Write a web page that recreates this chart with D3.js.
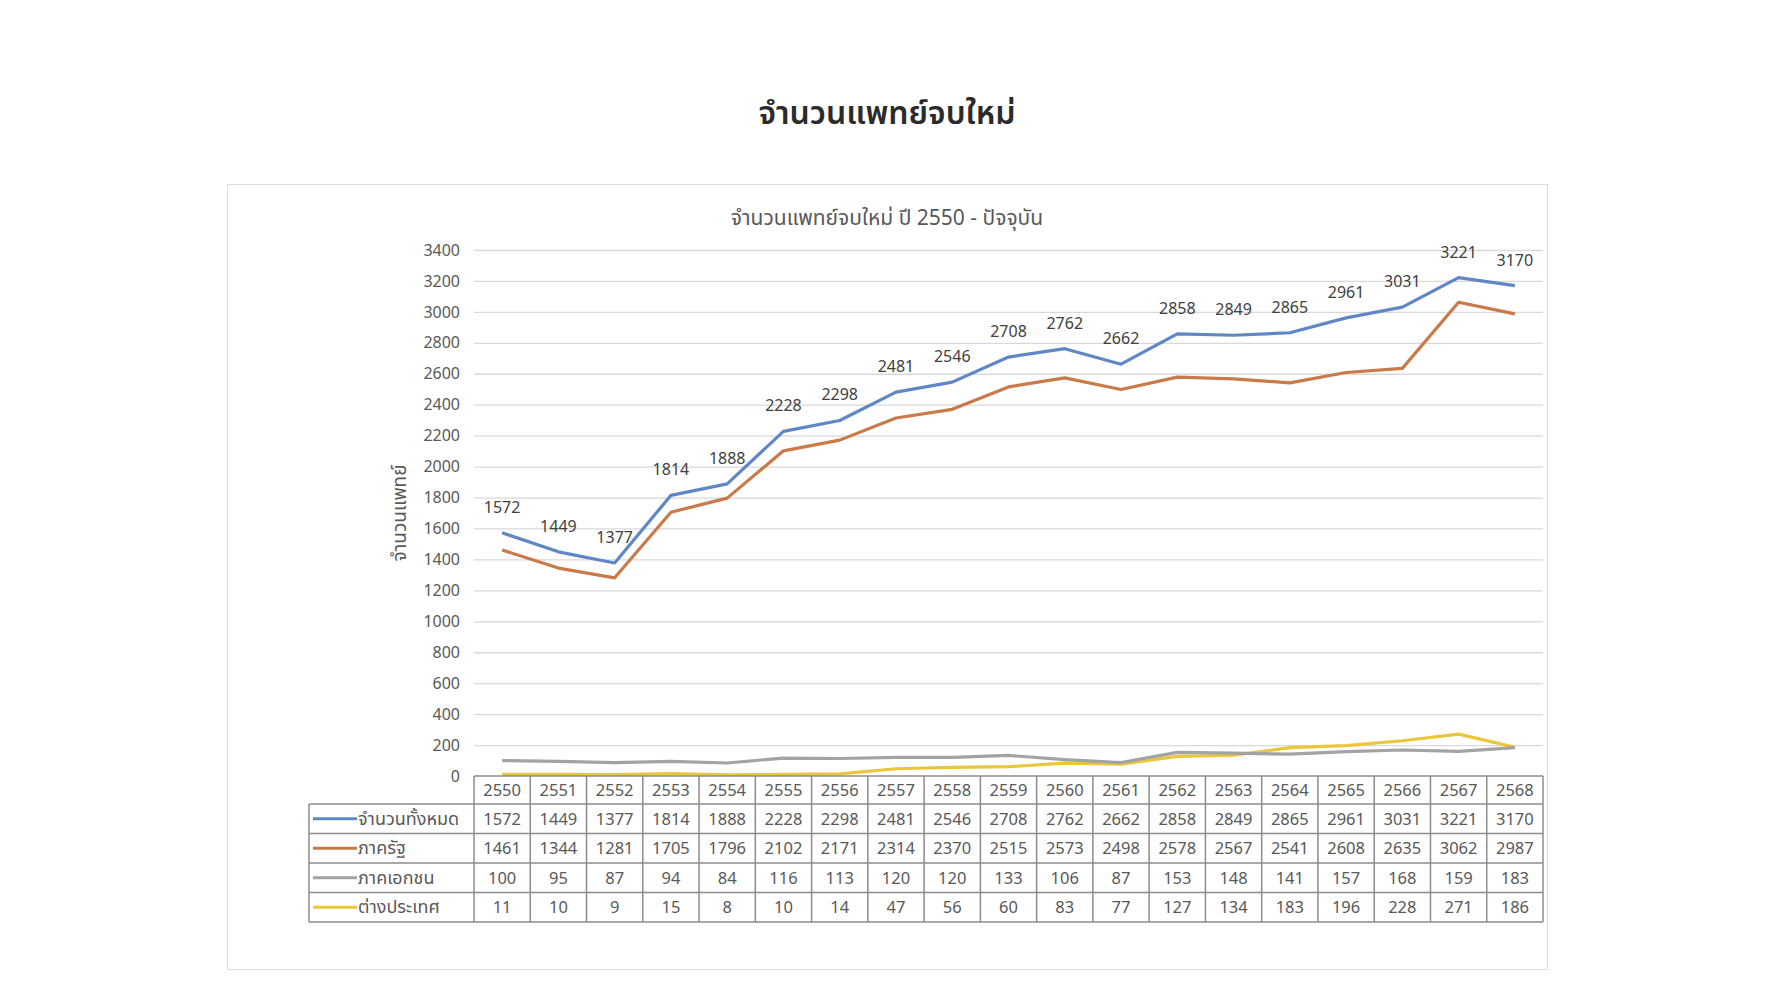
<!DOCTYPE html>
<html>
<head>
<meta charset="utf-8">
<script src="https://cdn.jsdelivr.net/npm/d3@7"></script>
<style>
  body { margin: 0; background: #fff; }
  svg { font-family: "Noto Sans Thai", "Noto Sans", "DejaVu Sans", sans-serif; }
</style>
</head>
<body>
<svg id="canvas" width="1771" height="992"></svg>
<script>
// data
let years = ["2550","2551","2552","2553","2554","2555","2556","2557","2558","2559",
  "2560","2561","2562","2563","2564","2565","2566","2567","2568"];
let total   = [1572,1449,1377,1814,1888,2228,2298,2481,2546,2708,2762,2662,2858,2849,2865,2961,3031,3221,3170];
let state   = [1461,1344,1281,1705,1796,2102,2171,2314,2370,2515,2573,2498,2578,2567,2541,2608,2635,3062,2987];
let privateSector = [100,95,87,94,84,116,113,120,120,133,106,87,153,148,141,157,168,159,183];
let abroad  = [11,10,9,15,8,10,14,47,56,60,83,77,127,134,183,196,228,271,186];
let seriesNames = ["จำนวนทั้งหมด", "ภาครัฐ", "ภาคเอกชน", "ต่างประเทศ"];
let seriesColors = ["#5f87c6", "#c87a48", "#a3a3a3", "#ecc63a"];
let yTicks = d3.range(0, 3401, 200);

let series = [total, state, privateSector, abroad];

let canvas = d3.select("#canvas");

let plotLeft = 474, plotRight = 1543, plotTop = 250, plotBottom = 776;
let legendLeft = 309;
let headerH = 28, rowH = 29.5;

let x = d3.scaleBand().domain(years).range([plotLeft, plotRight]);
let y = d3.scaleLinear().domain([0, 3400]).range([plotBottom, plotTop]);

// page title
canvas.append("text")
  .attr("x", 887).attr("y", 124)
  .attr("text-anchor", "middle")
  .attr("font-size", 32)
  .attr("font-weight", 600)
  .attr("fill", "#2b2b2b")
  .text("จำนวนแพทย์จบใหม่");

// chart frame
canvas.append("rect")
  .attr("x", 227.5).attr("y", 184.5)
  .attr("width", 1320).attr("height", 785)
  .attr("fill", "#fff")
  .attr("stroke", "#dcdcdc");

canvas.append("text")
  .attr("x", 887).attr("y", 225)
  .attr("text-anchor", "middle")
  .attr("font-size", 21)
  .attr("fill", "#595959")
  .text("จำนวนแพทย์จบใหม่ ปี 2550 - ปัจจุบัน");

// gridlines + y ticks
let yAxis = d3.axisLeft(y).tickValues(yTicks).tickFormat(d3.format("d"))
  .tickSize(-(plotRight - plotLeft)).tickPadding(14);
let gy = canvas.append("g")
  .attr("transform", `translate(${plotLeft},0)`)
  .call(yAxis);
gy.select(".domain").remove();
gy.selectAll(".tick line")
  .attr("stroke", (d) => d === 0 ? "none" : "#d9d9d9")
  .attr("stroke-width", 1.3);
gy.selectAll(".tick text")
  .attr("font-size", 16)
  .attr("fill", "#595959")
  .attr("font-family", "Noto Sans, sans-serif");

canvas.append("text")
  .attr("transform", "translate(406,513) rotate(-90)")
  .attr("text-anchor", "middle")
  .attr("font-size", 19)
  .attr("fill", "#595959")
  .text("จำนวนแพทย์");

// lines
let line = d3.line()
  .x((d, i) => x(years[i]) + x.bandwidth() / 2)
  .y((d) => y(d));

[3, 2, 1, 0].forEach((k) => {
  canvas.append("path")
    .datum(series[k])
    .attr("d", line)
    .attr("fill", "none")
    .attr("stroke", seriesColors[k])
    .attr("stroke-width", 3.2)
    .attr("stroke-linejoin", "round");
});

// data labels on total
canvas.selectAll(".lbl")
  .data(total)
  .enter()
  .append("text")
  .attr("class", "lbl")
  .attr("x", (d, i) => x(years[i]) + x.bandwidth() / 2)
  .attr("y", (d) => y(d) - 20)
  .attr("text-anchor", "middle")
  .attr("font-size", 16)
  .attr("fill", "#404040")
  .attr("font-family", "Noto Sans, sans-serif")
  .text((d) => d);

// data table
let table = canvas.append("g")
  .attr("font-size", 16.5)
  .attr("fill", "#595959");

let tableBottom = plotBottom + headerH + rowH * 4;
let gridColor = "#8c8c8c";

// header row
table.selectAll(".hdr")
  .data(years)
  .enter()
  .append("text")
  .attr("x", (d) => x(d) + x.bandwidth() / 2)
  .attr("y", plotBottom + headerH / 2 + 6)
  .attr("text-anchor", "middle")
  .attr("font-family", "Noto Sans, sans-serif")
  .text((d) => d);

// horizontal borders
let hLines = [plotBottom, plotBottom + headerH, plotBottom + headerH + rowH,
  plotBottom + headerH + rowH * 2, plotBottom + headerH + rowH * 3, tableBottom];
table.selectAll(".hl")
  .data(hLines)
  .enter()
  .append("line")
  .attr("x1", (d, i) => i === 0 ? plotLeft : legendLeft)
  .attr("x2", plotRight)
  .attr("y1", (d) => d).attr("y2", (d) => d)
  .attr("stroke", gridColor)
  .attr("stroke-width", 1.5);

// vertical borders
let vLines = years.map((d) => x(d)).concat([plotRight]);
table.selectAll(".vl")
  .data(vLines)
  .enter()
  .append("line")
  .attr("x1", (d) => d).attr("x2", (d) => d)
  .attr("y1", plotBottom).attr("y2", tableBottom)
  .attr("stroke", gridColor)
  .attr("stroke-width", 1.5);
table.append("line")
  .attr("x1", legendLeft).attr("x2", legendLeft)
  .attr("y1", plotBottom + headerH).attr("y2", tableBottom)
  .attr("stroke", gridColor)
  .attr("stroke-width", 1.5);

series.forEach((vals, k) => {
  let rowY = plotBottom + headerH + rowH * k;
  let mid = rowY + rowH / 2;
  table.append("line")
    .attr("x1", legendLeft + 4).attr("x2", legendLeft + 48)
    .attr("y1", mid).attr("y2", mid)
    .attr("stroke", seriesColors[k])
    .attr("stroke-width", 3.2);
  table.append("text")
    .attr("x", legendLeft + 49)
    .attr("y", mid + 6)
    .attr("font-size", 18)
    .text(seriesNames[k]);
  table.selectAll(".v" + k)
    .data(vals)
    .enter()
    .append("text")
    .attr("x", (d, i) => x(years[i]) + x.bandwidth() / 2)
    .attr("y", mid + 6)
    .attr("text-anchor", "middle")
    .attr("font-family", "Noto Sans, sans-serif")
    .text((d) => d);
});
</script>
</body>
</html>
